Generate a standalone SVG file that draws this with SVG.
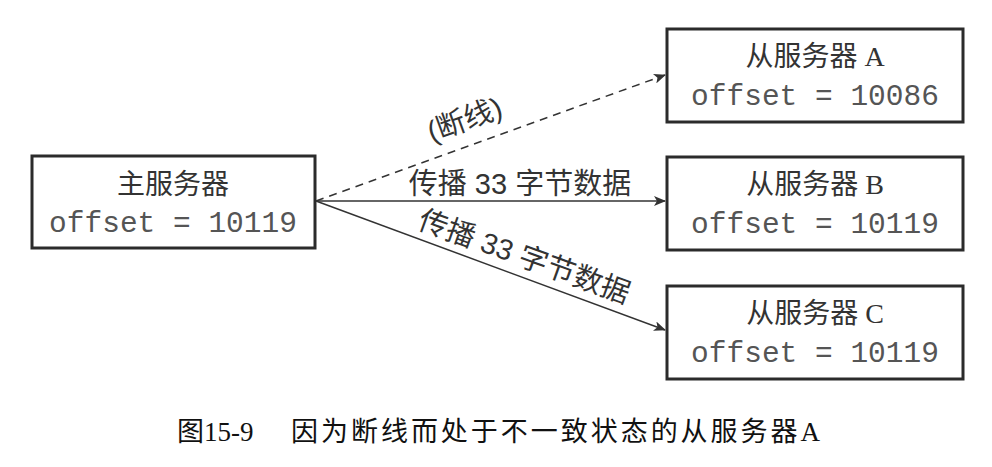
<svg xmlns="http://www.w3.org/2000/svg" width="992" height="467" viewBox="0 0 992 467">
<style>
.box{fill:#fff;stroke:#2b2b2b;stroke-width:3}
.t{font-family:"Liberation Serif","Noto Sans CJK SC",serif;font-size:28px;fill:#333;text-anchor:middle}
.m{font-family:"Liberation Mono",monospace;font-size:29.5px;fill:#555;text-anchor:middle}
.l{font-family:"Liberation Sans","Noto Sans CJK SC",sans-serif;font-size:29px;fill:#333;text-anchor:middle}
.c{stroke:#333;stroke-width:1.5;fill:none}
.cap{font-family:"Liberation Serif","Noto Sans CJK SC",serif;font-size:27px;fill:#111}
</style>
<defs>
<marker id="ah" markerWidth="12" markerHeight="10" refX="11" refY="5" orient="auto" markerUnits="userSpaceOnUse">
<path d="M0,0 L12,5 L0,10 L3,5 Z" fill="#333"/>
</marker>
</defs>
<g id="master">
<rect class="box" x="32" y="156" width="283" height="92"/>
<text class="t" x="173" y="194">主服务器</text>
<text class="m" x="173" y="232">offset = 10119</text>
</g>
<g id="slaveA">
<rect class="box" x="667" y="29" width="296" height="93"/>
<text class="t" x="815" y="66">从服务器 A</text>
<text class="m" x="815" y="105">offset = 10086</text>
</g>
<g id="slaveB">
<rect class="box" x="667" y="157" width="296" height="93"/>
<text class="t" x="815" y="194">从服务器 B</text>
<text class="m" x="815" y="233">offset = 10119</text>
</g>
<g id="slaveC">
<rect class="box" x="667" y="286" width="296" height="93"/>
<text class="t" x="815" y="323">从服务器 C</text>
<text class="m" x="815" y="362">offset = 10119</text>
</g>
<g id="connectors">
<line class="c" x1="316" y1="201" x2="665" y2="75" stroke-dasharray="8,6" marker-end="url(#ah)"/>
<line class="c" x1="316" y1="201" x2="665" y2="201" marker-end="url(#ah)"/>
<line class="c" x1="316" y1="201" x2="665" y2="330" marker-end="url(#ah)"/>
<text class="l" transform="translate(468,129) rotate(-20)">(断线)</text>
<text class="l" x="520" y="194">传播 33 字节数据</text>
<text class="l" transform="translate(521,266) rotate(20)">传播 33 字节数据</text>
</g>
<text class="cap" x="177" y="441">图15-9</text>
<text class="cap" x="291" y="441" textLength="529" lengthAdjust="spacing">因为断线而处于不一致状态的从服务器A</text>
</svg>
